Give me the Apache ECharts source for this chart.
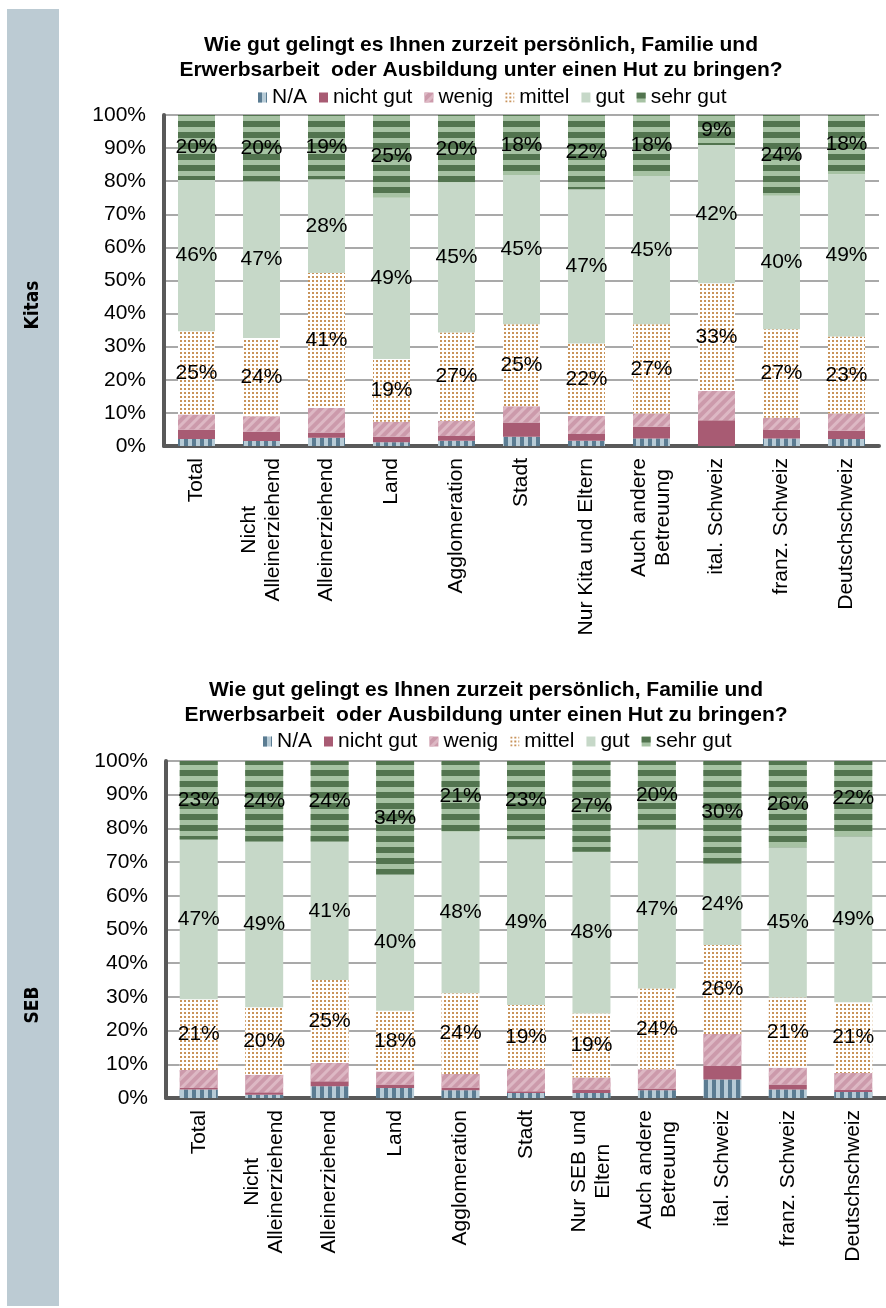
<!DOCTYPE html>
<html>
<head>
<meta charset="utf-8">
<script src="https://cdn.jsdelivr.net/npm/echarts@6/dist/echarts.min.js"></script>
<style>
  html, body { margin: 0; padding: 0; background: #fff; }
  #main { width: 886px; height: 1308px; }
</style>
</head>
<body>
<div id="main"></div>
<script>
// Kategorien und Werte (in %)
var seriesNames = ['N/A', 'nicht gut', 'wenig', 'mittel', 'gut', 'sehr gut'];
var yTicks = [0, 10, 20, 30, 40, 50, 60, 70, 80, 90, 100];

var catsKitas = ['Total', 'Nicht\nAlleinerziehend', 'Alleinerziehend', 'Land', 'Agglomeration', 'Stadt',
  'Nur Kita und Eltern', 'Auch andere\nBetreuung', 'ital. Schweiz', 'franz. Schweiz', 'Deutschschweiz'];
var catsSeb = ['Total', 'Nicht\nAlleinerziehend', 'Alleinerziehend', 'Land', 'Agglomeration', 'Stadt',
  'Nur SEB und\nEltern', 'Auch andere\nBetreuung', 'ital. Schweiz', 'franz. Schweiz', 'Deutschschweiz'];

var kitasNa     = [2.1, 1.5, 2.5, 1.1, 1.6, 2.8, 1.6, 2.3, 0.0, 2.3, 2.1];
var kitasNicht  = [2.8, 2.8, 1.6, 1.7, 1.4, 4.3, 2.0, 3.5, 7.8, 2.5, 2.5];
var kitasWenig  = [4.6, 4.7, 7.4, 4.5, 4.6, 4.9, 5.5, 4.0, 8.8, 3.7, 5.2];
var kitasMittel = [25.2, 23.6, 40.8, 19.0, 26.7, 24.8, 21.9, 27.0, 32.6, 26.8, 23.3];
var kitasGut    = [45.7, 47.4, 28.3, 48.7, 45.3, 45.1, 46.6, 44.8, 41.7, 40.3, 49.0];
var kitasSehr   = [19.6, 20.0, 19.4, 25.0, 20.4, 18.1, 22.4, 18.4, 9.1, 24.4, 17.9];

var sebNa     = [2.5, 1.0, 3.5, 3.0, 2.3, 1.5, 1.5, 2.3, 5.5, 2.5, 1.8];
var sebNicht  = [0.5, 0.7, 1.5, 1.0, 0.8, 0.5, 1.0, 0.5, 4.0, 1.5, 0.6];
var sebWenig  = [5.3, 5.2, 5.4, 3.9, 4.0, 6.6, 3.6, 5.7, 9.5, 5.0, 5.0];
var sebMittel = [21.0, 20.0, 24.6, 18.0, 24.0, 19.0, 19.0, 24.0, 26.4, 20.8, 21.0];
var sebGut    = [47.4, 49.2, 41.1, 40.4, 47.9, 49.2, 48.0, 47.2, 24.2, 44.6, 49.3];
var sebSehr   = [23.3, 23.9, 23.9, 33.7, 21.0, 23.2, 26.9, 20.3, 30.4, 25.6, 22.3];

var font = 'Liberation Sans, Arial, sans-serif';
var fs = 21;
var titleText = 'Wie gut gelingt es Ihnen zurzeit persönlich, Familie und\nErwerbsarbeit  oder Ausbildung unter einen Hut zu bringen?';

// Füllungen wie im Excel-Original (Muster über decal)
var fills = [
  { color: '#b7cbd6', decal: { symbol: 'rect', symbolSize: 1, symbolKeepAspect: false, color: '#5b7c92', dashArrayX: [4, 4], dashArrayY: [8, 0] } },
  { color: '#a85b73' },
  { color: '#cc9aab', decal: { symbol: 'rect', symbolSize: 1, symbolKeepAspect: false, color: '#ddb8c4', dashArrayX: [8, 0], dashArrayY: [3, 4], rotation: -Math.PI / 4 } },
  { color: '#ffffff', decal: { symbol: 'rect', symbolSize: 1, symbolKeepAspect: false, color: '#c8935a', dashArrayX: [2, 2], dashArrayY: [2, 2] } },
  { color: '#c6d8c8' },
  { color: '#a6c2a3', decal: { symbol: 'rect', symbolSize: 1, symbolKeepAspect: false, color: '#52744f', dashArrayX: [8, 0], dashArrayY: [6, 5] } }
];

function buildSeries(idx, arrays, barWidth) {
  return arrays.map(function (arr, i) {
    return {
      name: seriesNames[i],
      type: 'bar',
      stack: 'total' + idx,
      xAxisIndex: idx,
      yAxisIndex: idx,
      barWidth: barWidth,
      data: arr,
      itemStyle: fills[i],
      label: {
        show: i >= 3,
        position: 'inside',
        color: '#000',
        fontFamily: font,
        fontSize: fs,
        formatter: function (p) { return Math.round(p.value) + '%'; }
      }
    };
  });
}

function xAxis(idx, cats) {
  return {
    type: 'category',
    gridIndex: idx,
    data: cats,
    axisLine: { lineStyle: { color: '#595959', width: 4 } },
    axisTick: { show: false },
    axisLabel: {
      rotate: 90,
      interval: 0,
      margin: 12,
      formatter: function (v) {
        return v.split('\n').map(function (s) { return '{c|' + s + '}'; }).join('\n');
      },
      rich: { c: { align: 'center', fontSize: fs, lineHeight: 24, fontFamily: font, color: '#000' } }
    }
  };
}

function yAxis(idx) {
  return {
    type: 'value',
    gridIndex: idx,
    min: yTicks[0],
    max: yTicks[yTicks.length - 1],
    interval: 10,
    axisLine: { show: true, lineStyle: { color: '#595959', width: 4 } },
    axisTick: { show: false },
    splitLine: { lineStyle: { color: '#8c8c8c', width: 1.5 } },
    axisLabel: { formatter: '{value}%', fontSize: fs, fontFamily: font, color: '#000', margin: 18 }
  };
}

function legend(top, left) {
  return {
    data: seriesNames,
    top: top,
    left: left,
    icon: 'rect',
    itemWidth: 9,
    itemHeight: 10,
    itemGap: 12,
    textStyle: { fontSize: fs, fontFamily: font, color: '#000' }
  };
}

var chart = echarts.init(document.getElementById('main'));
chart.setOption({
  animation: false,
  textStyle: { fontFamily: font },
  title: [
    { text: titleText, left: 476, top: 28, textAlign: 'center',
      textStyle: { fontSize: fs, fontWeight: 'bold', lineHeight: 25, color: '#000', fontFamily: font } },
    { text: titleText, left: 481, top: 673, textAlign: 'center',
      textStyle: { fontSize: fs, fontWeight: 'bold', lineHeight: 25, color: '#000', fontFamily: font } }
  ],
  legend: [legend(82, 253), legend(726, 258)],
  grid: [
    { left: 164, top: 115, width: 715, height: 331 },
    { left: 166, top: 761, width: 731, height: 337 }
  ],
  xAxis: [xAxis(0, catsKitas), xAxis(1, catsSeb)],
  yAxis: [yAxis(0), yAxis(1)],
  graphic: [
    { type: 'rect', left: 7, top: 9, shape: { width: 52, height: 1297 }, style: { fill: '#bccbd3' }, z: -10 },
    { type: 'text', x: 33, y: 305, rotation: Math.PI / 2,
      style: { text: 'Kitas', fontSize: 19, fontWeight: 'bold', fontFamily: 'Liberation Sans Narrow, DejaVu Sans Condensed, sans-serif', fill: '#000', align: 'center', verticalAlign: 'middle' } },
    { type: 'text', x: 33, y: 1005, rotation: Math.PI / 2,
      style: { text: 'SEB', fontSize: 19, fontWeight: 'bold', fontFamily: 'Liberation Sans Narrow, DejaVu Sans Condensed, sans-serif', fill: '#000', align: 'center', verticalAlign: 'middle' } }
  ],
  series: buildSeries(0, [kitasNa, kitasNicht, kitasWenig, kitasMittel, kitasGut, kitasSehr], 37)
    .concat(buildSeries(1, [sebNa, sebNicht, sebWenig, sebMittel, sebGut, sebSehr], 38))
});
</script>
</body>
</html>
